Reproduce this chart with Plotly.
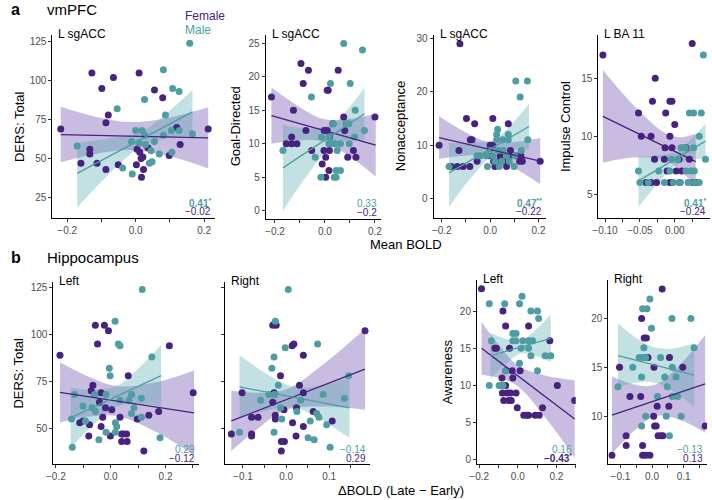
import plotly.graph_objects as go

W, H = 712, 500
FONT = "Liberation Sans, Arial, sans-serif"
PURPLE = "#48227f"
CYAN = "#4e9da2"
PURPLE_FILL = "rgba(96,64,165,0.35)"
CYAN_FILL = "rgba(72,160,166,0.33)"

# ---------------- panel a1: L sgACC vs DERS total ----------------
a1_f_x = [-0.219, -0.128, -0.099, -0.065, 0.010, -0.080, -0.087, 0.055, 0.079, -0.134, -0.134, -0.160, -0.113,
          -0.087, -0.051, 0.002, 0.004, 0.012, 0.021, 0.016, 0.036, 0.023, 0.017, 0.098, 0.120, 0.130, 0.212]
a1_f_y = [69, 105, 95, 102, 105, 78, 73, 94, 89, 56, 53, 47, 47, 43, 46, 46, 56, 54, 51, 50, 57, 43, 38, 52, 70, 59, 69]
a1_m_x = [0.158, 0.081, 0.108, 0.127, 0.087, 0.026, -0.054, -0.171, 0.000, 0.019, -0.012, 0.029, 0.055,
          0.045, 0.069, 0.048, 0.040, -0.038, -0.010, 0.081, 0.106, 0.104, 0.127, 0.166, 0.026, 0.010]
a1_m_y = [124, 107, 95, 93, 78, 88, 82, 58, 68, 68, 61, 59, 61, 55, 53, 48, 47, 44, 40, 65, 54, 68, 68, 66, 65, 60]
a1_f_line = ([-0.219, 0.212], [65.4, 63.3])
a1_m_line = ([-0.171, 0.166], [40.5, 80.0])
a1_f_band = ([-0.219, -0.115, -0.01, 0.10, 0.212], [47.6, 53.1, 55.4, 51.4, 43.6], [83.2, 76.7, 73.4, 76.4, 83.0])
a1_m_band = ([-0.171, -0.075, 0.015, 0.09, 0.166], [18.5, 40.5, 57.5, 63.0, 64.5], [60.0, 63.0, 67.0, 79.0, 94.0])

# ---------------- panel a2: L sgACC vs Goal-Directed ----------------
a2_f_x = [-0.214, -0.096, -0.066, -0.087, 0.053, 0.009, 0.013, -0.126, -0.133, -0.155, -0.133, -0.112, -0.076,
          -0.053, -0.003, 0.009, 0.032, -0.004, 0.018, 0.003, -0.011, 0.016, 0.003, 0.079, 0.075, 0.114, 0.124,
          0.091, 0.200, 0.018]
a2_f_y = [17, 22, 21, 19, 21, 18, 18, 15, 11, 10, 10, 10, 12, 9, 12, 12, 13, 9, 9, 8, 7, 6, 5, 12, 14, 9, 8, 8, 14, 11]
a2_m_x = [0.075, 0.150, -0.054, 0.022, 0.101, 0.121, 0.095, 0.084, 0.158, -0.168, -0.039, -0.014, 0.016,
          0.034, 0.016, 0.026, 0.039, 0.062, 0.097, 0.118, 0.049, 0.045, 0.062, -0.016, 0.037, 0.045]
a2_m_y = [25, 24, 17, 19, 19, 15, 13, 13, 12, 9, 8, 11, 11, 13, 10, 10, 10, 10, 10, 11, 9, 6, 6, 5, 5, 5]
a2_f_line = ([-0.214, 0.203], [14.2, 9.8])
a2_m_line = ([-0.168, 0.158], [6.4, 14.5])
a2_f_band = ([-0.214, -0.11, -0.01, 0.095, 0.203], [10.0, 10.5, 10.35, 8.2, 5.1], [18.4, 15.7, 13.75, 13.7, 14.5])
a2_m_band = ([-0.168, -0.07, 0.03, 0.094, 0.158], [0.0, 5.35, 9.7, 10.5, 10.6], [12.8, 12.3, 12.9, 15.3, 18.4])

# ---------------- panel a3: L sgACC vs Nonacceptance ----------------
a3_f_x = [-0.125, -0.211, -0.098, -0.064, 0.011, 0.075, -0.082, -0.075, -0.129, -0.161, -0.136, -0.112, -0.084,
          -0.054, 0.000, 0.010, -0.007, 0.014, 0.020, 0.034, 0.054, 0.079, 0.084, 0.106, 0.127, 0.122, 0.133,
          0.207, 0.068, 0.041]
a3_f_y = [29, 10, 15, 14, 15, 14, 11, 11, 9, 6, 6, 6, 6, 7, 10, 10, 8, 7, 6, 7, 7, 8, 9, 8, 8, 7, 7, 7, 6, 8]
a3_m_x = [0.106, 0.154, 0.124, 0.031, 0.027, 0.027, 0.052, 0.075, 0.075, 0.156, -0.170, -0.054, -0.041,
          -0.016, 0.000, -0.011, 0.038, 0.048, 0.068, 0.102, 0.099, 0.129, 0.034, 0.054, 0.079, 0.020, 0.011]
a3_m_y = [22, 22, 19, 13, 12, 11, 11, 11, 12, 11, 6, 8, 8, 8, 9, 6, 6, 7, 8, 8, 6, 9, 9, 9, 7, 7, 8]
a3_f_line = ([-0.211, 0.207], [11.4, 7.0])
a3_m_line = ([-0.170, 0.161], [4.8, 13.5])
a3_f_band = ([-0.211, -0.11, -0.01, 0.10, 0.207], [7.4, 8.0, 8.0, 5.7, 2.65], [15.4, 12.6, 10.6, 10.6, 11.35])
a3_m_band = ([-0.170, -0.075, 0.02, 0.09, 0.161], [-1.6, 4.1, 8.5, 9.2, 9.25], [10.4, 10.5, 11.1, 14.0, 17.75])

# ---------------- panel a4: L BA 11 vs Impulse Control ----------------
a4_f_x = [-0.103, 0.025, -0.028, -0.032, -0.007, -0.004, -0.052, -0.013, 0.000, -0.048, -0.034, -0.007, -0.014,
          -0.004, -0.029, -0.015, 0.006, -0.011, 0.002, 0.010, 0.016, -0.041, -0.034, -0.026, -0.007, -0.004,
          0.007, 0.026, 0.030, 0.021]
a4_f_y = [17, 18, 15, 13, 13, 13, 12, 12, 11, 10, 10, 10, 9, 9, 8, 8, 8, 7, 7, 7, 9, 6, 6, 6, 6, 6, 6, 6, 6, 8]
a4_m_x = [0.041, 0.021, 0.027, 0.038, 0.035, 0.027, 0.009, 0.012, 0.015, 0.044, -0.052, -0.023, 0.016,
          0.023, 0.028, -0.050, -0.038, -0.015, -0.002, 0.008, 0.019, 0.028, 0.035, -0.005, 0.004, -0.007]
a4_m_y = [17, 12, 12, 12, 10, 9, 9, 9, 9, 8, 7, 7, 7, 7, 7, 6, 6, 6, 6, 6, 6, 6, 6, 8, 8, 7]
a4_f_line = ([-0.103, 0.030], [11.7, 7.8])
a4_m_line = ([-0.052, 0.044], [6.14, 9.57])
a4_f_band = ([-0.103, -0.058, -0.012, 0.009, 0.030], [7.7, 8.15, 7.9, 6.95, 5.7], [15.7, 12.6, 10.2, 9.9, 10.2])
a4_m_band = ([-0.052, -0.024, 0.004, 0.024, 0.044], [3.9, 5.95, 7.6, 7.97, 8.07], [8.2, 8.35, 8.7, 9.75, 11.07])

# ---------------- panel b1: left hippocampus vs DERS total ----------------
b1_f_x = [-0.185, -0.056, -0.023, -0.008, -0.048, 0.214, 0.064, -0.065, -0.071, -0.035, -0.041, -0.019, -0.029,
          0.004, -0.113, -0.101, -0.077, -0.080, -0.035, -0.001, 0.034, 0.040, 0.046, 0.058, 0.040, 0.060, 0.121,
          0.097, 0.139, 0.175, 0.301]
b1_f_y = [89, 105, 105, 102, 95, 94, 78, 73, 70, 69, 64, 61, 56, 60, 53, 54, 52, 46, 51, 46, 56, 47, 47, 47, 43, 43,
          38, 55, 57, 59, 69]
b1_m_x = [0.115, 0.016, 0.028, 0.034, 0.150, -0.005, -0.002, -0.132, -0.059, -0.017, 0.076, 0.112, 0.067, 0.034,
          -0.101, -0.068, -0.056, 0.076, 0.085, 0.112, -0.143, -0.092, 0.017, 0.022, -0.017, 0.017, -0.043, -0.140,
          0.180]
b1_m_y = [124, 107, 95, 94, 88, 82, 78, 68, 68, 68, 68, 66, 65, 65, 62, 61, 59, 58, 61, 56, 55, 54, 53, 51, 48, 48,
          44, 40, 45]
b1_f_line = ([-0.185, 0.304], [69.2, 58.3])
b1_m_line = ([-0.146, 0.184], [55.6, 78.1])
b1_f_band = ([-0.185, -0.08, 0.025, 0.165, 0.304], [53.2, 56.3, 56.5, 48.2, 35.7], [85.2, 77.5, 72.5, 74.6, 80.9])
b1_m_band = ([-0.146, -0.063, 0.02, 0.102, 0.184], [39.6, 51.9, 61.4, 63.1, 61.8], [71.7, 70.6, 72.4, 82.0, 94.4])

# ---------------- panel b2: right hippocampus vs DERS total ----------------
b2_f_x = [-0.127, -0.102, -0.080, -0.065, -0.080, -0.031, -0.023, -0.013, -0.028, -0.031, -0.025, -0.005, -0.011,
          -0.004, -0.011, 0.014, 0.018, 0.040, 0.031, 0.040, 0.024, 0.015, 0.040, 0.023, 0.063, 0.107, 0.183,
          -0.080, -0.025]
b2_f_y = [47, 69, 56, 56, 47, 105, 105, 78, 69, 64, 57, 60, 43, 43, 38, 94, 95, 89, 73, 69, 61, 53, 51, 46, 59, 54,
          102, 46, 55]
b2_m_x = [0.005, -0.025, -0.002, 0.073, -0.028, -0.033, -0.108, -0.059, -0.040, -0.027, 0.034, 0.086, 0.135,
          0.145, -0.013, 0.025, 0.071, 0.076, 0.056, -0.010, -0.028, 0.094, 0.051, 0.065, 0.102, -0.018]
b2_m_y = [124, 107, 93, 95, 88, 82, 48, 65, 68, 68, 65, 68, 66, 78, 61, 59, 58, 56, 54, 55, 48, 52, 45, 44, 40, 73]
b2_f_line = ([-0.127, 0.183], [54.0, 81.6])
b2_m_line = ([-0.108, 0.147], [72.1, 60.9])
b2_f_band = ([-0.127, -0.063, 0.0, 0.09, 0.183], [38.0, 50.4, 59.8, 61.7, 60.0], [70.0, 69.0, 70.8, 84.9, 103.1])
b2_m_band = ([-0.108, -0.044, 0.02, 0.083, 0.147], [55.3, 59.6, 61.0, 54.4, 44.9], [88.9, 78.9, 72.0, 73.0, 77.0])

# ---------------- panel b3: left hippocampus vs Awareness ----------------
b3_f_x = [-0.188, -0.077, -0.063, 0.056, -0.119, -0.111, -0.043, 0.166, -0.029, -0.063, -0.082, -0.026, 0.012,
          -0.063, 0.205, 0.295, -0.080, -0.055, -0.038, -0.009, -0.073, -0.046, -0.034, -0.003, 0.128, 0.031,
          0.046, 0.056, 0.090, 0.111]
b3_f_y = [23, 20, 18, 18, 15, 15, 15, 16, 12, 12, 11, 11, 12, 10, 10, 8, 9, 9, 9, 9, 8, 8, 8, 7, 7, 6, 6, 6, 6, 6]
b3_m_x = [0.022, -0.148, -0.068, 0.009, 0.068, 0.102, 0.108, -0.026, -0.009, -0.137, -0.026, -0.009, 0.026,
          0.077, 0.056, 0.068, 0.009, 0.142, 0.171, 0.102, -0.148, -0.097, -0.085, -0.077, -0.063, 0.056, 0.017]
b3_m_y = [22, 21, 21, 21, 20, 20, 19, 17, 17, 16, 16, 16, 16, 16, 15, 14, 13, 14, 14, 12, 10, 10, 10, 10, 12, 16, 15]
b3_f_line = ([-0.188, 0.295], [15.0, 5.5])
b3_m_line = ([-0.142, 0.171], [14.0, 16.35])
b3_f_band = ([-0.188, -0.094, 0.0, 0.148, 0.295], [11.45, 11.0, 9.9, 5.5, 0.3], [18.55, 15.3, 12.7, 11.3, 10.7])
b3_m_band = ([-0.142, -0.064, 0.015, 0.093, 0.171], [10.9, 12.9, 14.3, 14.0, 13.15], [17.1, 16.3, 16.0, 17.5, 19.55])

# ---------------- panel b4: right hippocampus vs Awareness ----------------
b4_f_x = [0.032, -0.033, -0.025, -0.018, -0.103, -0.013, 0.055, 0.006, 0.097, -0.070, -0.036, 0.016, 0.053,
          -0.082, -0.082, -0.127, -0.030, -0.030, -0.020, -0.007, 0.008, 0.013, 0.019, 0.029, 0.034, 0.005, 0.168]
b4_f_y = [23, 20, 18, 18, 15, 16, 16, 15, 15, 12, 12, 11, 11, 8, 7, 6, 7, 6, 6, 6, 9, 9, 8, 8, 8, 10, 9]
b4_m_x = [-0.007, -0.030, -0.016, -0.002, 0.063, 0.123, -0.026, -0.041, -0.030, -0.020, -0.108, -0.061, -0.033,
          0.027, 0.040, 0.076, 0.064, 0.048, 0.133, 0.017, 0.064, 0.081, -0.020, 0.045, 0.092, -0.033, 0.055]
b4_m_y = [22, 21, 21, 19, 20, 20, 17, 16, 16, 16, 13, 15, 14, 16, 14, 14, 15, 13, 17, 12, 12, 12, 10, 10, 10, 9, 8]
b4_f_line = ([-0.127, 0.168], [10.1, 13.3])
b4_m_line = ([-0.108, 0.133], [16.2, 14.2])
b4_f_band = ([-0.127, -0.058, 0.01, 0.089, 0.168], [6.15, 8.45, 10.0, 9.6, 8.3], [14.05, 13.25, 13.2, 15.3, 18.3])
b4_m_band = ([-0.108, -0.048, 0.012, 0.072, 0.133], [12.9, 13.45, 13.4, 12.45, 10.95], [19.5, 17.95, 17.0, 16.95, 17.45])

# correlation labels (male on top, female below)
r_male = ["<b>0.41<sup>*</sup></b>", "0.33", "<b>0.47<sup>**</sup></b>", "<b>0.41<sup>*</sup></b>",
          "0.29", "\u22120.14", "0.16", "\u22120.13"]
r_female = ["\u22120.02", "\u22120.2", "\u22120.22", "\u22120.24",
            "\u22120.12", "0.29", "<b>\u22120.43<sup>*</sup></b>", "0.13"]
panel_titles = ["L sgACC", "L sgACC", "L sgACC", "L BA 11", "Left", "Right", "Left", "Right"]
y_titles = ["DERS: Total", "Goal-Directed", "Nonacceptance", "Impulse Control", "DERS: Total", None, "Awareness", None]

# layout in pixels: (left, right, top, bottom), axis ranges, ticks
boxes = [(45, 210, 33, 217), (261, 378, 33, 218), (431, 545, 33, 217), (598, 711, 33, 217),
         (46, 193, 282, 465), (220, 367, 282, 465), (475, 575, 280, 465), (608, 708, 280, 465)]
x_ranges = [[-0.2433, 0.2329], [-0.2369, 0.2250], [-0.234, 0.2314], [-0.1094, 0.0505],
            [-0.2089, 0.3205], [-0.1412, 0.1954], [-0.2116, 0.3004], [-0.1385, 0.174]]
y_ranges = [[12.0, 129.5], [-1.19, 26.29], [-3.6, 30.68], [2.97, 18.74],
            [30.94, 127.8], [30.94, 127.8], [-0.58, 24.14], [5.08, 23.9]]
# labelled ticks and unlabelled in-between ticks
xt_wide = ([-0.2, 0.0, 0.2], ["\u22120.2", "0.0", "0.2"], [-0.1, 0.1])
xt_b = ([-0.2, 0.0, 0.2], ["\u22120.2", "0.0", "0.2"], [-0.1, 0.1, 0.3])
xt_small = ([-0.1, 0.0, 0.1], ["\u22120.1", "0.0", "0.1"], [-0.05, 0.05, 0.15])
xt_a4 = ([-0.1, -0.05, 0.0], ["\u22120.10", "\u22120.05", "0.00"], [-0.075, -0.025, 0.025])
x_ticks = [xt_wide, xt_wide, xt_wide, xt_a4, xt_b, xt_small, xt_b, xt_small]
y_ticks = [[25, 50, 75, 100, 125], [0, 5, 10, 15, 20, 25], [0, 10, 20, 30], [5, 10, 15],
           [50, 75, 100, 125], [50, 75, 100, 125], [0, 5, 10, 15, 20], [10, 15, 20]]

panels = [
    (a1_f_x, a1_f_y, a1_m_x, a1_m_y, a1_f_line, a1_m_line, a1_f_band, a1_m_band),
    (a2_f_x, a2_f_y, a2_m_x, a2_m_y, a2_f_line, a2_m_line, a2_f_band, a2_m_band),
    (a3_f_x, a3_f_y, a3_m_x, a3_m_y, a3_f_line, a3_m_line, a3_f_band, a3_m_band),
    (a4_f_x, a4_f_y, a4_m_x, a4_m_y, a4_f_line, a4_m_line, a4_f_band, a4_m_band),
    (b1_f_x, b1_f_y, b1_m_x, b1_m_y, b1_f_line, b1_m_line, b1_f_band, b1_m_band),
    (b2_f_x, b2_f_y, b2_m_x, b2_m_y, b2_f_line, b2_m_line, b2_f_band, b2_m_band),
    (b3_f_x, b3_f_y, b3_m_x, b3_m_y, b3_f_line, b3_m_line, b3_f_band, b3_m_band),
    (b4_f_x, b4_f_y, b4_m_x, b4_m_y, b4_f_line, b4_m_line, b4_f_band, b4_m_band),
]


def px(x):
    return x / W


def py(y):
    return 1 - y / H


fig = go.Figure()
annotations = []
layout_axes = {}

for i, (fx, fy, mx, my, fline, mline, fband, mband) in enumerate(panels):
    n = i + 1
    xa = "x" if n == 1 else f"x{n}"
    ya = "y" if n == 1 else f"y{n}"
    common = dict(xaxis=xa, yaxis=ya, showlegend=False, hoverinfo="skip")

    # confidence bands
    for (bx, lo, hi), fill in [(fband, PURPLE_FILL), (mband, CYAN_FILL)]:
        fig.add_trace(go.Scatter(x=bx, y=lo, mode="lines", line=dict(width=0, shape="spline"), **common))
        fig.add_trace(go.Scatter(x=bx, y=hi, mode="lines", line=dict(width=0, shape="spline"),
                                 fill="tonexty", fillcolor=fill, **common))

    # points
    fig.add_trace(go.Scatter(x=fx, y=fy, mode="markers", marker=dict(size=7, color=PURPLE), **common))
    fig.add_trace(go.Scatter(x=mx, y=my, mode="markers", marker=dict(size=7, color=CYAN), **common))

    # fitted lines
    fig.add_trace(go.Scatter(x=fline[0], y=fline[1], mode="lines", line=dict(color=PURPLE, width=1.3), **common))
    fig.add_trace(go.Scatter(x=mline[0], y=mline[1], mode="lines", line=dict(color=CYAN, width=1.3), **common))

    l, r, t, b = boxes[i]
    tv, tt, minor_v = x_ticks[i]
    axis_common = dict(showline=True, linecolor="black", linewidth=1, ticks="outside", ticklen=3,
                       tickwidth=1, tickcolor="#333333", showgrid=False, zeroline=False,
                       tickfont=dict(family=FONT, size=10, color="#4d4d4d"))
    layout_axes["xaxis" if n == 1 else f"xaxis{n}"] = dict(
        domain=[px(l), px(r)], range=x_ranges[i], anchor=ya, tickvals=tv, ticktext=tt,
        minor=dict(tickmode="array", tickvals=minor_v, ticks="outside", ticklen=3, tickwidth=1,
                   tickcolor="#333333", showgrid=False),
        **axis_common)
    layout_axes["yaxis" if n == 1 else f"yaxis{n}"] = dict(
        domain=[py(b), py(t)], range=y_ranges[i], anchor=xa, tickvals=y_ticks[i],
        showticklabels=(n != 6), **axis_common)

    # panel title
    annotations.append(dict(x=px(l + 4), y=py(t - 1), text=panel_titles[i], xanchor="left", yanchor="middle",
                            font=dict(family=FONT, size=12, color="black")))
    # correlation labels
    annotations.append(dict(x=px(r - 2), y=py(b - 15), text=r_male[i], xanchor="right", yanchor="middle",
                            font=dict(family=FONT, size=10, color=CYAN)))
    annotations.append(dict(x=px(r - 2), y=py(b - 6), text=r_female[i], xanchor="right", yanchor="middle",
                            font=dict(family=FONT, size=10, color=PURPLE)))

# y axis titles
y_title_pos = [(11, 125), (230, 125), (397, 125), (564, 125), (11, 373), None, (445, 372), None]
for title, pos in zip(y_titles, y_title_pos):
    if title is None:
        continue
    annotations.append(dict(x=px(pos[0]), y=py(pos[1]), text=title, textangle=-90, xanchor="center",
                            yanchor="middle", font=dict(family=FONT, size=13, color="black")))

# x axis titles
annotations.append(dict(x=px(403), y=py(244), text="Mean BOLD", xanchor="center", yanchor="middle",
                        font=dict(family=FONT, size=13, color="black")))
annotations.append(dict(x=px(398), y=py(491), text="\u0394BOLD (Late \u2212 Early)", xanchor="center",
                        yanchor="middle", font=dict(family=FONT, size=13, color="black")))

# section headers
annotations.append(dict(x=px(1), y=py(8), text="<b>a</b>", xanchor="left", yanchor="middle",
                        font=dict(family=FONT, size=16, color="black")))
annotations.append(dict(x=px(37), y=py(8), text="vmPFC", xanchor="left", yanchor="middle",
                        font=dict(family=FONT, size=15, color="black")))
annotations.append(dict(x=px(1), y=py(257), text="<b>b</b>", xanchor="left", yanchor="middle",
                        font=dict(family=FONT, size=16, color="black")))
annotations.append(dict(x=px(37), y=py(257), text="Hippocampus", xanchor="left", yanchor="middle",
                        font=dict(family=FONT, size=15, color="black")))

# legend text
annotations.append(dict(x=px(177), y=py(14), text="Female", xanchor="left", yanchor="middle",
                        font=dict(family=FONT, size=12, color=PURPLE)))
annotations.append(dict(x=px(177), y=py(28), text="Male", xanchor="left", yanchor="middle",
                        font=dict(family=FONT, size=12, color=CYAN)))

for a in annotations:
    a.update(xref="paper", yref="paper", showarrow=False)

fig.update_layout(
    width=W, height=H, autosize=False,
    margin=dict(l=0, r=0, t=0, b=0),
    paper_bgcolor="white", plot_bgcolor="white",
    font=dict(family=FONT),
    annotations=annotations,
    **layout_axes,
)

# page body margin would shift the 712x500 figure; remove it
fig.write_html("out.html", config={"displayModeBar": False},
               post_script="document.body.style.margin='0';")
